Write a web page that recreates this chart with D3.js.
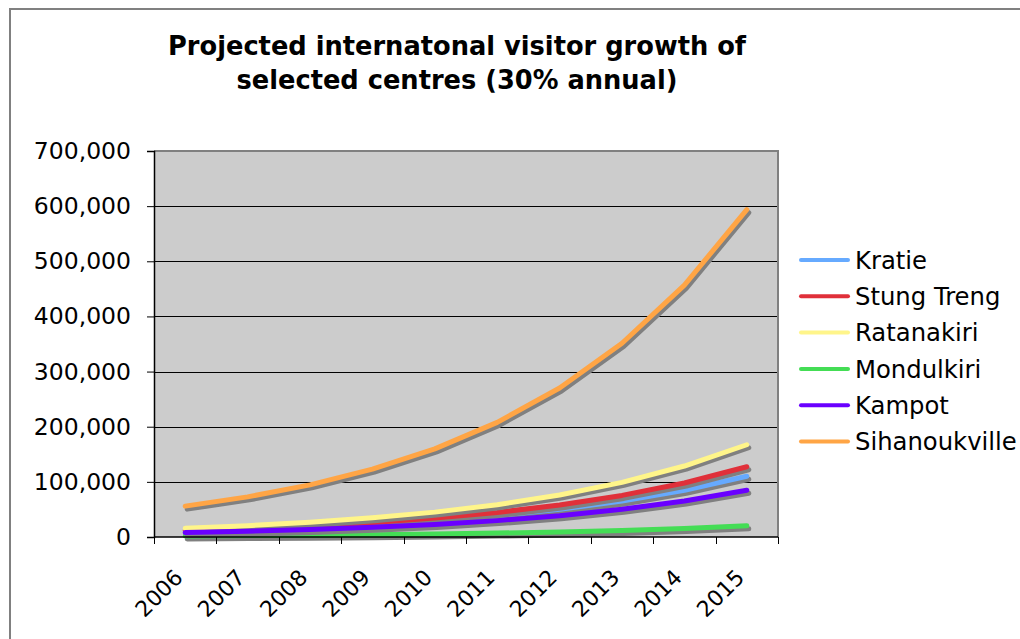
<!DOCTYPE html>
<html>
<head>
<meta charset="utf-8">
<script src="https://cdn.jsdelivr.net/npm/d3@7/dist/d3.min.js"></script>
<style>
  html, body { margin: 0; padding: 0; background: #ffffff; }
  svg { display: block; }
  text { font-family: "DejaVu Sans", Verdana, sans-serif; fill: #000; }
</style>
</head>
<body>
<div id="chart"></div>
<script>
// Projected visitors per centre, 2006-2015
const years = ["2006", "2007", "2008", "2009", "2010", "2011", "2012", "2013", "2014", "2015"];
const kratie        = [10400, 13500, 17600, 22800, 29700, 38600, 50200, 65200, 84800, 110200];
const stungTreng    = [12000, 15600, 20300, 26400, 34300, 44600, 58000, 75400, 98000, 127400];
const ratanakiri    = [15800, 20500, 26700, 34700, 45100, 58600, 76200, 99000, 128700, 167300];
const mondulkiri    = [1900, 2500, 3200, 4200, 5400, 7100, 9200, 12000, 15500, 20200];
const kampot        = [8000, 10400, 13500, 17600, 22800, 29700, 38600, 50200, 65200, 84800];
const sihanoukville = [56000, 72800, 94600, 123000, 159900, 207900, 270300, 351400, 456800, 593800];
const seriesNames   = ["Kratie", "Stung Treng", "Ratanakiri", "Mondulkiri", "Kampot", "Sihanoukville"];
const seriesValues  = [kratie, stungTreng, ratanakiri, mondulkiri, kampot, sihanoukville];
const seriesColors  = ["#66aaff", "#e0303a", "#fff58a", "#44dd55", "#6a00ff", "#ffa545"];
const yTicks = [0, 100000, 200000, 300000, 400000, 500000, 600000, 700000];
const titleLines = ["Projected internatonal visitor growth of", "selected centres (30% annual)"];

const W = 1020, H = 639;
const plot = { left: 154, right: 778, top: 151, bottom: 537 };

const svg = d3.select("#chart").append("svg").attr("width", W).attr("height", H);

// outer chart frame (top and left edges)
svg.append("path")
  .attr("d", `M10,${H} L10,9 L${W},9`)
  .attr("fill", "none").attr("stroke", "#808080").attr("stroke-width", 2);

// title
svg.append("g").selectAll("text").data(titleLines).join("text")
  .attr("x", 457).attr("y", (d, i) => 55 + i * 34)
  .attr("text-anchor", "middle")
  .attr("font-weight", "bold").attr("font-size", 25.7)
  .text(d => d);

const x = d3.scaleBand().domain(years).range([plot.left, plot.right]);
const y = d3.scaleLinear().domain([0, 700000]).range([plot.bottom, plot.top]);

// plot background
svg.append("rect")
  .attr("x", plot.left).attr("y", plot.top)
  .attr("width", plot.right - plot.left).attr("height", plot.bottom - plot.top)
  .attr("fill", "#cccccc");

// horizontal gridlines
svg.append("g").selectAll("line").data(yTicks.filter(v => v > 0 && v < 700000)).join("line")
  .attr("x1", plot.left).attr("x2", plot.right)
  .attr("y1", d => Math.round(y(d)) + 0.5).attr("y2", d => Math.round(y(d)) + 0.5)
  .attr("stroke", "#000").attr("stroke-width", 1);

// plot frame: top and right in gray
svg.append("path")
  .attr("d", `M${plot.left},${plot.top} L${plot.right},${plot.top} L${plot.right},${plot.bottom}`)
  .attr("fill", "none").attr("stroke", "#808080").attr("stroke-width", 2);

// series lines with drop shadows
const line = d3.line()
  .x((d, i) => x(years[i]) + x.bandwidth() / 2)
  .y(d => y(d));

const seriesG = svg.append("g");
seriesValues.forEach((vals, k) => {
  seriesG.append("path")
    .attr("d", line(vals))
    .attr("transform", "translate(2,3)")
    .attr("fill", "none").attr("stroke", "#808080")
    .attr("stroke-width", 5).attr("stroke-linejoin", "round").attr("stroke-linecap", "round");
  seriesG.append("path")
    .attr("d", line(vals))
    .attr("fill", "none").attr("stroke", seriesColors[k])
    .attr("stroke-width", 5).attr("stroke-linejoin", "round").attr("stroke-linecap", "round");
});

// y axis
const yAxis = d3.axisLeft(y).tickValues(yTicks).tickSize(7).tickPadding(16)
  .tickFormat(d3.format(","));
const yg = svg.append("g").attr("transform", `translate(${plot.left},0)`).call(yAxis);
yg.select(".domain").attr("stroke", "#000").attr("stroke-width", 1.5);
yg.selectAll(".tick line").attr("stroke", "#000");
yg.selectAll(".tick text").attr("font-size", 23.5)
  .attr("font-family", "'DejaVu Sans', Verdana, sans-serif").attr("fill", "#000");

// x axis: ticks at category boundaries
const xg = svg.append("g");
xg.append("line")
  .attr("x1", plot.left).attr("x2", plot.right)
  .attr("y1", plot.bottom).attr("y2", plot.bottom)
  .attr("stroke", "#000").attr("stroke-width", 1.5);
const bounds = years.map(yr => x(yr)).concat([x(years[years.length - 1]) + x.bandwidth()]);
xg.selectAll("line.tick").data(bounds).join("line").attr("class", "tick")
  .attr("x1", d => Math.round(d) + 0.5).attr("x2", d => Math.round(d) + 0.5)
  .attr("y1", plot.bottom).attr("y2", plot.bottom + 7)
  .attr("stroke", "#000");
xg.selectAll("text").data(years).join("text")
  .attr("transform", d => `translate(${x(d) + x.bandwidth() / 2 - 12},${plot.bottom + 31}) rotate(-45)`)
  .attr("text-anchor", "end")
  .attr("dy", "0.7em")
  .attr("font-size", 22)
  .text(d => d);

// legend
const legend = svg.append("g");
const items = legend.selectAll("g").data(seriesNames).join("g")
  .attr("transform", (d, i) => `translate(801,${260 + i * 36.3})`);
items.append("line")
  .attr("x1", 0).attr("x2", 47).attr("y1", 0).attr("y2", 0)
  .attr("stroke", (d, i) => seriesColors[i]).attr("stroke-width", 4)
  .attr("stroke-linecap", "round");
items.append("text")
  .attr("x", 54).attr("y", 0).attr("dy", "0.36em")
  .attr("font-size", 24.3)
  .text(d => d);
</script>
</body>
</html>
